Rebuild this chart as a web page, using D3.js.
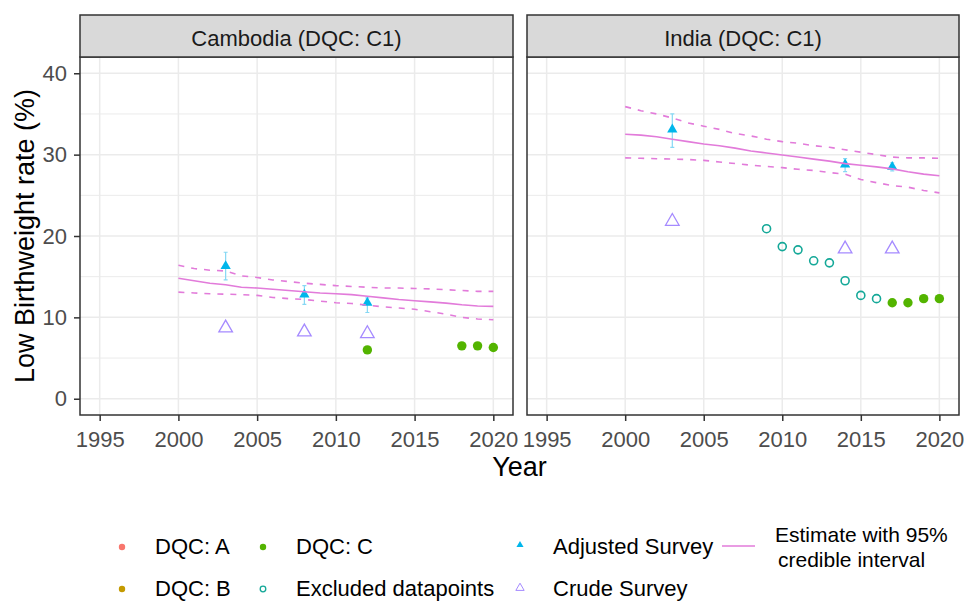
<!DOCTYPE html>
<html>
<head>
<meta charset="utf-8">
<script src="https://cdn.jsdelivr.net/npm/d3@7"></script>
<style>
  body { margin: 0; background: #fff; }
  svg { display: block; font-family: Arial, "Liberation Sans", sans-serif; }
</style>
</head>
<body>
<div id="root"></div>
<script>
// ticks
const yearTicks = [1995, 2000, 2005, 2010, 2015, 2020]
const rateTicks = [0, 10, 20, 30, 40]
const rateMinor = [5, 15, 25, 35]

// estimate years (annual)
const estYears = [2000, 2001, 2002, 2003, 2004, 2005, 2006, 2007, 2008, 2009, 2010,
                  2011, 2012, 2013, 2014, 2015, 2016, 2017, 2018, 2019, 2020]

// Cambodia
const camEst = [14.8, 14.5, 14.2, 14.0, 13.7, 13.6, 13.45, 13.3, 13.15, 13.0, 12.9,
                12.8, 12.6, 12.4, 12.2, 12.05, 11.9, 11.75, 11.55, 11.4, 11.35]
const camHi  = [16.4, 16.0, 15.8, 15.7, 15.1, 14.9, 14.6, 14.4, 14.2, 14.05, 13.9,
                13.8, 13.7, 13.6, 13.6, 13.55, 13.5, 13.4, 13.3, 13.2, 13.2]
const camLo  = [13.1, 13.0, 12.9, 12.85, 12.8, 12.7, 12.45, 12.3, 12.2, 12.0, 11.8,
                11.7, 11.5, 11.3, 11.15, 11.0, 10.7, 10.4, 10.0, 9.8, 9.7]
const camAdjYears = [2003, 2008, 2012]
const camAdj   = [16.3, 12.8, 11.8]
const camAdjLo = [14.6, 11.6, 10.6]
const camAdjHi = [18.0, 13.9, 12.4]
const camCrudeYears = [2003, 2008, 2012]
const camCrude = [8.7, 8.2, 8.0]
const camDqcYears = [2012, 2018, 2019, 2020]
const camDqc = [6.0, 6.5, 6.5, 6.3]
const camExclYears = []
const camExcl = []

// India
const indEst = [32.5, 32.4, 32.2, 31.9, 31.6, 31.3, 31.1, 30.8, 30.45, 30.2, 29.95,
                29.7, 29.45, 29.2, 28.9, 28.7, 28.5, 28.25, 27.9, 27.6, 27.4]
const indHi  = [35.9, 35.4, 35.0, 34.5, 33.9, 33.5, 33.1, 32.6, 32.3, 31.9, 31.6,
                31.4, 31.1, 30.9, 30.6, 30.3, 30.0, 29.7, 29.6, 29.6, 29.55]
const indLo  = [29.6, 29.55, 29.5, 29.45, 29.4, 29.3, 29.1, 28.9, 28.7, 28.55, 28.4,
                28.2, 28.05, 27.8, 27.6, 26.95, 26.55, 26.2, 26.0, 25.6, 25.3]
const indAdjYears = [2003, 2014, 2017]
const indAdj   = [33.1, 28.8, 28.5]
const indAdjLo = [30.9, 27.9, 28.0]
const indAdjHi = [35.0, 29.5, 29.0]
const indCrudeYears = [2003, 2014, 2017]
const indCrude = [21.8, 18.4, 18.4]
const indDqcYears = [2017, 2018, 2019, 2020]
const indDqc = [11.8, 11.8, 12.3, 12.3]
const indExclYears = [2009, 2010, 2011, 2012, 2013, 2014, 2015, 2016]
const indExcl = [20.9, 18.7, 18.3, 16.95, 16.7, 14.5, 12.7, 12.3]

const panelNames = ['Cambodia (DQC: C1)', 'India (DQC: C1)']

const colA = '#F8766D', colB = '#C49A00', colC = '#53B400', colExcl = '#14A898',
      colAdj = '#00B6EB', colCrude = '#A58AFF', colEst = '#E27BDA'

const panels = [
    { name: panelNames[0], est: camEst, lo: camLo, hi: camHi,
      adjYears: camAdjYears, adj: camAdj, adjLo: camAdjLo, adjHi: camAdjHi,
      crudeYears: camCrudeYears, crude: camCrude, dqcYears: camDqcYears, dqc: camDqc,
      exclYears: camExclYears, excl: camExcl },
    { name: panelNames[1], est: indEst, lo: indLo, hi: indHi,
      adjYears: indAdjYears, adj: indAdj, adjLo: indAdjLo, adjHi: indAdjHi,
      crudeYears: indCrudeYears, crude: indCrude, dqcYears: indDqcYears, dqc: indDqc,
      exclYears: indExclYears, excl: indExcl }
]

const W = 965, H = 602
const panelTop = 57, panelBottom = 415, stripTop = 15
const panelX = [[80, 513], [527, 959]]
const font = 'Arial, "Liberation Sans", sans-serif'

const svg = d3.select('#root').append('svg')
    .attr('width', W)
    .attr('height', H)
svg.append('rect').attr('width', W).attr('height', H).attr('fill', '#fff')

const y = d3.scaleLinear().domain([-2, 42]).range([panelBottom, panelTop])

const triAdj = d3.symbol(d3.symbolTriangle, 46)
const triCrude = d3.symbol(d3.symbolTriangle, 80)

panels.forEach((p, i) => {
    const [x0, x1] = panelX[i]
    const x = d3.scaleLinear().domain([1993.75, 2021.25]).range([x0, x1])
    const g = svg.append('g')

    // grid
    g.selectAll('.minor').data(rateMinor).enter().append('line')
        .attr('x1', x0).attr('x2', x1)
        .attr('y1', d => y(d)).attr('y2', d => y(d))
        .attr('stroke', '#ebebeb').attr('stroke-width', 1)
    g.selectAll('.hmajor').data(rateTicks).enter().append('line')
        .attr('x1', x0).attr('x2', x1)
        .attr('y1', d => y(d)).attr('y2', d => y(d))
        .attr('stroke', '#ebebeb').attr('stroke-width', 1.5)
    g.selectAll('.vmajor').data(yearTicks).enter().append('line')
        .attr('x1', d => x(d)).attr('x2', d => x(d))
        .attr('y1', panelTop).attr('y2', panelBottom)
        .attr('stroke', '#ebebeb').attr('stroke-width', 1.5)

    // error bars for adjusted survey (with small caps)
    const adjData = d3.zip(p.adjYears, p.adj, p.adjLo, p.adjHi)
    g.selectAll('.err').data(adjData).enter().append('path')
        .attr('d', d => {
            const cx = x(d[0]), lo = y(d[2]), hi = y(d[3])
            return `M${cx},${lo}V${hi}M${cx - 2},${hi}H${cx + 2}M${cx - 2},${lo}H${cx + 2}`
        })
        .attr('fill', 'none').attr('stroke', '#86d8f4').attr('stroke-width', 1.2)

    // crude survey
    g.selectAll('.crude').data(d3.zip(p.crudeYears, p.crude)).enter().append('path')
        .attr('d', triCrude)
        .attr('transform', d => `translate(${x(d[0])},${y(d[1])})`)
        .attr('fill', 'none').attr('stroke', colCrude).attr('stroke-width', 1.3)

    // excluded datapoints
    g.selectAll('.excl').data(d3.zip(p.exclYears, p.excl)).enter().append('circle')
        .attr('cx', d => x(d[0])).attr('cy', d => y(d[1])).attr('r', 4)
        .attr('fill', 'none').attr('stroke', colExcl).attr('stroke-width', 1.6)

    // DQC: C datapoints
    g.selectAll('.dqc').data(d3.zip(p.dqcYears, p.dqc)).enter().append('circle')
        .attr('cx', d => x(d[0])).attr('cy', d => y(d[1])).attr('r', 4.7)
        .attr('fill', colC)

    // adjusted survey
    g.selectAll('.adj').data(adjData).enter().append('path')
        .attr('d', triAdj)
        .attr('transform', d => `translate(${x(d[0])},${y(d[1])})`)
        .attr('fill', colAdj)

    // estimate with credible interval
    const line = d3.line().x(d => x(d[0])).y(d => y(d[1]))
    ;[p.lo, p.hi].forEach(arr => {
        g.append('path')
            .attr('d', line(d3.zip(estYears, arr)))
            .attr('fill', 'none').attr('stroke', colEst)
            .attr('stroke-width', 1.6).attr('stroke-dasharray', '6,7')
    })
    g.append('path')
        .attr('d', line(d3.zip(estYears, p.est)))
        .attr('fill', 'none').attr('stroke', colEst)
        .attr('stroke-width', 1.6)

    // panel border
    g.append('rect')
        .attr('x', x0).attr('y', panelTop)
        .attr('width', x1 - x0).attr('height', panelBottom - panelTop)
        .attr('fill', 'none').attr('stroke', '#333').attr('stroke-width', 1.5)

    // strip
    g.append('rect')
        .attr('x', x0).attr('y', stripTop)
        .attr('width', x1 - x0).attr('height', panelTop - stripTop)
        .attr('fill', '#d9d9d9').attr('stroke', '#333').attr('stroke-width', 1.5)
    g.append('text')
        .attr('x', (x0 + x1) / 2).attr('y', 46)
        .attr('text-anchor', 'middle')
        .attr('font-size', 22).attr('fill', '#1a1a1a')
        .text(p.name)

    // x axis
    const xAxis = g.append('g')
        .attr('transform', `translate(0,${panelBottom})`)
        .call(d3.axisBottom(x).tickValues(yearTicks).tickFormat(d3.format('d'))
            .tickSize(6).tickPadding(10))
    xAxis.select('.domain').remove()
    xAxis.selectAll('line').attr('stroke', '#333').attr('stroke-width', 1.5)
    xAxis.selectAll('text').attr('font-size', 22).attr('fill', '#4d4d4d')
        .attr('font-family', font)

    // y axis on first panel only
    if (i === 0) {
        const yAxis = g.append('g')
            .attr('transform', `translate(${x0},0)`)
            .call(d3.axisLeft(y).tickValues(rateTicks).tickSize(6).tickPadding(7))
        yAxis.select('.domain').remove()
        yAxis.selectAll('line').attr('stroke', '#333').attr('stroke-width', 1.5)
        yAxis.selectAll('text').attr('font-size', 22).attr('fill', '#4d4d4d')
            .attr('font-family', font)
    }
})

// axis titles
svg.append('text')
    .attr('x', (panelX[0][0] + panelX[1][1]) / 2).attr('y', 476)
    .attr('text-anchor', 'middle').attr('font-size', 27)
    .text('Year')
svg.append('text')
    .attr('transform', `translate(34,${(panelTop + panelBottom) / 2}) rotate(-90)`)
    .attr('text-anchor', 'middle').attr('font-size', 27)
    .text('Low Birthweight rate (%)')

// legend
const legend = svg.append('g').attr('font-size', 22)
const row1 = 547, row2 = 589
const dotItems = [
    { label: 'DQC: A', col: colA, kx: 122, ky: row1 },
    { label: 'DQC: B', col: colB, kx: 122, ky: row2 },
    { label: 'DQC: C', col: colC, kx: 263, ky: row1 }
]
dotItems.forEach(d => {
    legend.append('circle').attr('cx', d.kx).attr('cy', d.ky).attr('r', 3.2).attr('fill', d.col)
    legend.append('text').attr('x', d.kx + 33).attr('y', d.ky + 7).text(d.label)
})
legend.append('circle').attr('cx', 263).attr('cy', row2).attr('r', 2.8)
    .attr('fill', 'none').attr('stroke', colExcl).attr('stroke-width', 1.3)
legend.append('text').attr('x', 296).attr('y', row2 + 7).text('Excluded datapoints')

legend.append('path').attr('d', d3.symbol(d3.symbolTriangle, 22))
    .attr('transform', `translate(520,${row1 - 2})`).attr('fill', colAdj)
legend.append('text').attr('x', 553).attr('y', row1 + 7).text('Adjusted Survey')
legend.append('path').attr('d', d3.symbol(d3.symbolTriangle, 30))
    .attr('transform', `translate(520,${row2 - 1})`)
    .attr('fill', 'none').attr('stroke', colCrude).attr('stroke-width', 1)
legend.append('text').attr('x', 553).attr('y', row2 + 7).text('Crude Survey')

legend.append('line').attr('x1', 722).attr('x2', 755).attr('y1', 546).attr('y2', 546)
    .attr('stroke', colEst).attr('stroke-width', 1.6)
legend.append('text').attr('x', 775).attr('y', 542).attr('font-size', 21).text('Estimate with 95%')
legend.append('text').attr('x', 778).attr('y', 567).attr('font-size', 21).text('credible interval')
</script>
</body>
</html>
